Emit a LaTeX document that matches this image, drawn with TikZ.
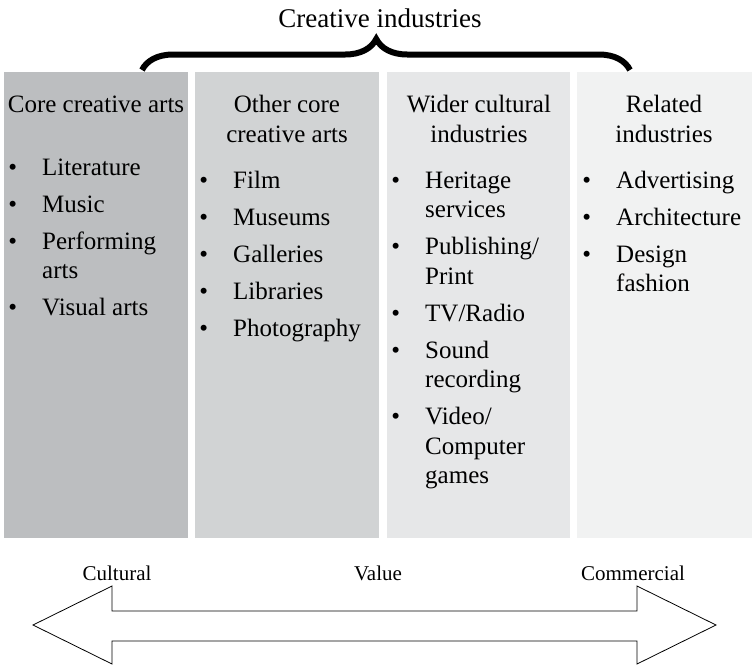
\documentclass[tikz,border=0pt]{standalone}
\usepackage{fontspec}
\setmainfont{Liberation Serif}
\usetikzlibrary{decorations.pathreplacing}
\definecolor{tint30}{HTML}{BCBEC0}
\definecolor{tint20}{HTML}{D1D3D4}
\definecolor{tint10}{HTML}{E6E7E8}
\definecolor{tint05}{HTML}{F1F2F2}
\tikzstyle{panel}=[anchor=north west, inner sep=0pt, minimum height=466pt]
\tikzstyle{head}=[anchor=base, inner sep=0pt, font=\fontsize{25}{30}\selectfont]
\tikzstyle{items}=[anchor=base west, inner sep=0pt, font=\fontsize{25}{29.5}\selectfont]
\tikzstyle{scalelabel}=[anchor=base, inner sep=0pt, font=\fontsize{21}{25}\selectfont]
\newcommand{\bulletlist}[1]{\begin{tabular}[t]{@{}c@{\hspace{25pt}}l@{}}#1\end{tabular}}
\newcommand{\twolines}[2]{\begin{tabular}[t]{@{}c@{}}#1\\#2\end{tabular}}
\newcommand{\nextitem}{\\[7.5pt]}

\begin{document}
\begin{tikzpicture}[x=1pt, y=1pt]
\useasboundingbox (0, 0) rectangle (752, -665);

\node[panel, fill=tint30, minimum width=184pt] at (4, -72) (core) {};
\node[panel, fill=tint20, minimum width=184pt] at (195, -72) (othercore) {};
\node[panel, fill=tint10, minimum width=183pt] at (387, -72) (wider) {};
\node[panel, fill=tint05, minimum width=175pt] at (577, -72) (related) {};

\node[anchor=base, inner sep=0pt, font=\fontsize{27}{32}\selectfont] at (380, -27) (title) {Creative industries};
\draw[line width=6pt, decorate, decoration={brace, amplitude=31pt, aspect=0.48}] (142, -70) -- (630, -70);

\node[head] at (96, -112) (corehead) {Core creative arts};
\node[head] at (287, -112) (othercorehead) {\twolines{Other core}{creative arts}};
\node[head] at (479, -112) (widerhead) {\twolines{Wider cultural}{industries}};
\node[head] at (664, -112) (relatedhead) {\twolines{Related}{industries}};

\node[items] at (8.25, -175) (corelist) {\bulletlist{%
  \textbullet & Literature\nextitem
  \textbullet & Music\nextitem
  \textbullet & Performing\\ & arts\nextitem
  \textbullet & Visual arts}};
\node[items] at (199.25, -188) (othercorelist) {\bulletlist{%
  \textbullet & Film\nextitem
  \textbullet & Museums\nextitem
  \textbullet & Galleries\nextitem
  \textbullet & Libraries\nextitem
  \textbullet & Photography}};
\node[items] at (391.25, -188) (widerlist) {\bulletlist{%
  \textbullet & Heritage\\ & services\nextitem
  \textbullet & Publishing/\\ & Print\nextitem
  \textbullet & TV/Radio\nextitem
  \textbullet & Sound\\ & recording\nextitem
  \textbullet & Video/\\ & Computer\\ & games}};
\node[items] at (582.25, -188) (relatedlist) {\bulletlist{%
  \textbullet & Advertising\nextitem
  \textbullet & Architecture\nextitem
  \textbullet & Design\\ & fashion}};

\node[scalelabel] at (117, -580) (cultural) {Cultural};
\node[scalelabel] at (378, -580) (value) {Value};
\node[scalelabel] at (633, -580) (commercial) {Commercial};
\draw[line width=0.8pt, line join=miter] (33, -625) -- (112, -586) -- (112, -611) -- (637, -611) -- (637, -586) -- (716, -625) -- (637, -664) -- (637, -641) -- (112, -641) -- (112, -664) -- cycle;
\end{tikzpicture}
\end{document}
